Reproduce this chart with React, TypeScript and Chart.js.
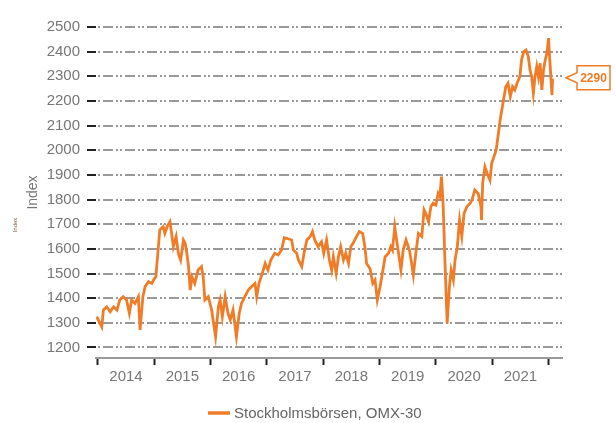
import React, { useEffect, useRef } from 'react';
import { Chart, registerables } from 'chart.js';

Chart.register(...registerables);
Chart.defaults.font.family = "'Liberation Sans', Arial, sans-serif";

// ---- data ----
const seriesLabel = 'Stockholmsbörsen, OMX-30';
const axisTitle = 'Index';
const lastValueLabel = '2290';

const dates = [
  2013.98, 2014.07, 2014.10, 2014.16, 2014.22, 2014.28, 2014.34, 2014.39, 2014.45, 2014.51,
  2014.56, 2014.60, 2014.66, 2014.72, 2014.75, 2014.80, 2014.84, 2014.90, 2014.96, 2014.99,
  2015.03, 2015.07, 2015.10, 2015.16, 2015.19, 2015.23, 2015.28, 2015.31, 2015.34, 2015.39,
  2015.43, 2015.47, 2015.52, 2015.55, 2015.58, 2015.61, 2015.64, 2015.67, 2015.72, 2015.78,
  2015.84, 2015.87, 2015.90, 2015.96, 2016.02, 2016.09, 2016.14, 2016.17, 2016.21, 2016.26,
  2016.31, 2016.35, 2016.40, 2016.46, 2016.51, 2016.55, 2016.61, 2016.67, 2016.73, 2016.79,
  2016.82, 2016.86, 2016.92, 2016.97, 2017.02, 2017.07, 2017.14, 2017.20, 2017.26, 2017.31,
  2017.35, 2017.44, 2017.47, 2017.53, 2017.56, 2017.62, 2017.66, 2017.71, 2017.77, 2017.81,
  2017.85, 2017.91, 2017.97, 2018.01, 2018.06, 2018.11, 2018.15, 2018.18, 2018.23, 2018.27,
  2018.31, 2018.36, 2018.40, 2018.45, 2018.49, 2018.53, 2018.59, 2018.64, 2018.70, 2018.74,
  2018.77, 2018.83, 2018.88, 2018.92, 2018.96, 2019.01, 2019.06, 2019.10, 2019.16, 2019.20,
  2019.23, 2019.27, 2019.32, 2019.38, 2019.42, 2019.47, 2019.53, 2019.57, 2019.60, 2019.65,
  2019.69, 2019.75, 2019.79, 2019.82, 2019.87, 2019.91, 2019.95, 2020.00, 2020.04, 2020.07,
  2020.10, 2020.13, 2020.16, 2020.20, 2020.24, 2020.27, 2020.31, 2020.34, 2020.38, 2020.42,
  2020.46, 2020.50, 2020.55, 2020.61, 2020.64, 2020.69, 2020.75, 2020.80, 2020.81, 2020.83,
  2020.87, 2020.91, 2020.96, 2020.99, 2021.03, 2021.07, 2021.11, 2021.14, 2021.17, 2021.20,
  2021.24, 2021.28, 2021.32, 2021.36, 2021.40, 2021.44, 2021.49, 2021.52, 2021.56, 2021.60,
  2021.64, 2021.67, 2021.70, 2021.73, 2021.76, 2021.79, 2021.82, 2021.85, 2021.88, 2021.91,
  2021.94, 2021.97, 2022.00, 2022.01, 2022.04, 2022.06, 2022.07,
];

const omx30 = [
  1325, 1284, 1352, 1365, 1345, 1365, 1352, 1393, 1406, 1393,
  1339, 1393, 1379, 1406, 1271, 1406, 1447, 1467, 1460, 1474,
  1487, 1595, 1677, 1690, 1663, 1690, 1710, 1663, 1609, 1650,
  1582, 1555, 1636, 1623, 1582, 1528, 1433, 1487, 1460, 1514,
  1528, 1487, 1393, 1406, 1352, 1244, 1365, 1393, 1325, 1406,
  1339, 1312, 1352, 1244, 1339, 1379, 1406, 1433, 1447, 1460,
  1406, 1460, 1501, 1541, 1514, 1555, 1582, 1575, 1595, 1645,
  1643, 1636, 1595, 1582, 1555, 1528, 1582, 1636, 1650, 1670,
  1636, 1609, 1629, 1582, 1636, 1555, 1514, 1568, 1501, 1568,
  1609, 1555, 1582, 1541, 1609, 1623, 1650, 1670, 1663, 1609,
  1541, 1520, 1460, 1474, 1393, 1447, 1514, 1568, 1582, 1609,
  1595, 1690, 1609, 1514, 1595, 1636, 1595, 1541, 1494, 1595,
  1663, 1650, 1758, 1744, 1710, 1771, 1785, 1778, 1825, 1812,
  1893, 1771, 1555, 1298, 1447, 1514, 1474, 1555, 1609, 1717,
  1650, 1744, 1771, 1785, 1798, 1839, 1825, 1771, 1717, 1866,
  1933, 1906, 1879, 1947, 1974, 2001, 2069, 2123, 2163, 2204,
  2258, 2272, 2217, 2258, 2245, 2272, 2299, 2366, 2400, 2407,
  2380, 2326, 2299, 2231, 2299, 2340, 2299, 2353, 2245, 2326,
  2366, 2394, 2455, 2407, 2299, 2224, 2290,
];

const yTickValues = [1200, 1300, 1400, 1500, 1600, 1700, 1800, 1900, 2000, 2100, 2200, 2300, 2400, 2500];
const yearLabels = ['2014', '2015', '2016', '2017', '2018', '2019', '2020', '2021'];
const yearBoundaries = [2014, 2015, 2016, 2017, 2018, 2019, 2020, 2021, 2022];
const xMin = 2013.968;
const xMax = 2022.238;
const yMin = 1157.4;
const yMax = 2500;

const ORANGE = '#F07C28';

const xTickValues: number[] = [];
yearBoundaries.forEach((b, i) => {
  xTickValues.push(b);
  if (i < yearLabels.length) xTickValues.push(b + 0.5);
});

function xLabelFor(v: number): string {
  for (let i = 0; i < yearLabels.length; i++) {
    if (Math.abs(yearBoundaries[i] + 0.5 - v) < 1e-6) return yearLabels[i];
  }
  return '';
}

const decorations = {
  id: 'decorations',
  afterDraw(chart: any) {
    const { ctx, chartArea, scales } = chart;
    const ds = chart.data.datasets[0];
    const lastVal = ds.data[ds.data.length - 1].y;
    const y = scales.y.getPixelForValue(lastVal) - 1;

    // value callout
    const tipX = chartArea.right + 4;
    const bx = chartArea.right + 15;
    const bw = 33;
    const bh = 24;
    ctx.save();
    ctx.beginPath();
    ctx.moveTo(bx, y - bh / 2);
    ctx.lineTo(bx + bw, y - bh / 2);
    ctx.lineTo(bx + bw, y + bh / 2);
    ctx.lineTo(bx, y + bh / 2);
    ctx.lineTo(bx, y + 5);
    ctx.lineTo(tipX, y);
    ctx.lineTo(bx, y - 5);
    ctx.closePath();
    ctx.fillStyle = '#ffffff';
    ctx.fill();
    ctx.strokeStyle = ORANGE;
    ctx.lineWidth = 1.5;
    ctx.stroke();
    ctx.fillStyle = ORANGE;
    ctx.font = "bold 12px 'Liberation Sans', Arial, sans-serif";
    ctx.textAlign = 'center';
    ctx.textBaseline = 'middle';
    ctx.fillText(lastValueLabel, bx + bw / 2, y + 0.5);

    // legend
    const ly = 413;
    ctx.strokeStyle = ds.borderColor;
    ctx.lineWidth = 3.5;
    ctx.beginPath();
    ctx.moveTo(208, ly);
    ctx.lineTo(230, ly);
    ctx.stroke();
    ctx.fillStyle = '#666666';
    ctx.font = "15px 'Liberation Sans', Arial, sans-serif";
    ctx.textAlign = 'left';
    ctx.fillText(ds.label, 234, ly + 0.5);

    // tiny stray axis label
    ctx.translate(15, 225);
    ctx.rotate(-Math.PI / 2);
    ctx.fillStyle = '#8a6a4e';
    ctx.font = "6px 'Liberation Sans', Arial, sans-serif";
    ctx.textAlign = 'center';
    ctx.fillText(axisTitle, 0, 0);
    ctx.restore();
  },
};

export default function App() {
  const canvasRef = useRef<HTMLCanvasElement | null>(null);

  useEffect(() => {
    if (!canvasRef.current) return;
    const chart = new Chart(canvasRef.current, {
      type: 'line',
      data: {
        datasets: [
          {
            label: seriesLabel,
            data: dates.map((d, i) => ({ x: d, y: omx30[i] })),
            borderColor: ORANGE,
            backgroundColor: ORANGE,
            borderWidth: 2.8,
            pointRadius: 0,
            tension: 0,
            fill: false,
          },
        ],
      },
      options: {
        responsive: false,
        animation: false,
        layout: { padding: { top: 27, right: 54, bottom: 0, left: 0 } },
        plugins: {
          legend: { display: false },
          tooltip: { enabled: false },
        },
        scales: {
          x: {
            type: 'linear',
            min: xMin,
            max: xMax,
            afterBuildTicks: (s: any) => {
              s.ticks = xTickValues.map((v) => ({ value: v }));
            },
            afterFit: (s: any) => {
              s.height = 65;
            },
            ticks: {
              autoSkip: false,
              maxRotation: 0,
              minRotation: 0,
              padding: 3,
              color: '#777777',
              font: { size: 15 },
              callback: (v: any) => xLabelFor(Number(v)),
            },
            grid: {
              drawOnChartArea: false,
              drawTicks: true,
              tickLength: 7,
              tickWidth: 2,
              tickColor: (c: any) =>
                c.tick && Number.isInteger(c.tick.value) ? '#222222' : 'rgba(0,0,0,0)',
            },
            border: { display: true, color: '#9a9a9a', width: 2 },
          },
          y: {
            type: 'linear',
            min: yMin,
            max: yMax,
            afterBuildTicks: (s: any) => {
              s.ticks = yTickValues.map((v) => ({ value: v }));
            },
            afterFit: (s: any) => {
              s.width = 96;
            },
            ticks: {
              padding: 7,
              color: '#777777',
              font: { size: 15 },
              callback: (v: any) => String(v),
            },
            grid: {
              color: '#999999',
              lineWidth: 2,
              drawTicks: true,
              tickLength: 9,
              tickWidth: 2,
              tickColor: '#222222',
              tickBorderDash: [],
            },
            border: { display: false, dash: [10, 3, 2, 2, 2, 3], dashOffset: 15 },
            title: {
              display: true,
              text: axisTitle,
              color: '#777777',
              font: { size: 14 },
              padding: { top: 25, bottom: 0 },
            },
          },
        },
      },
      plugins: [decorations],
    });
    return () => chart.destroy();
  }, []);

  return (
    <div style={{ position: 'fixed', left: 0, top: 0, width: 616, height: 423, background: '#ffffff' }}>
      <canvas ref={canvasRef} width={616} height={423} style={{ display: 'block' }} />
    </div>
  );
}
